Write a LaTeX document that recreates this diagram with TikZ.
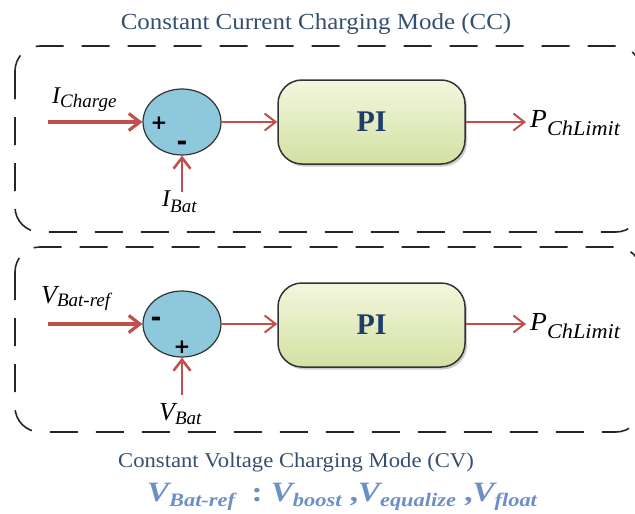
\documentclass[tikz,border=0pt]{standalone}
\usepackage{fontspec}
\setmainfont{Liberation Serif}
\newfontfamily\signfont{DejaVu Sans}
\usetikzlibrary{arrows.meta,shadows,shapes.geometric}
\definecolor{arr}{HTML}{C0504D}
\definecolor{ttl}{HTML}{34506E}
\definecolor{eqc}{HTML}{6D8FC7}
\definecolor{circ}{HTML}{8DC8DC}
\definecolor{pitop}{HTML}{F3F7DE}
\definecolor{pibot}{HTML}{D3E0A2}
\definecolor{pitxt}{HTML}{1F3D6B}
\newcommand\fs[1]{\fontsize{#1}{#1}\selectfont}
% main letter size, main letter, subscript size, subscript, drop
\newcommand\lbl[5]{{\fs{#1}\itshape #2}\raisebox{-#5pt}{\fs{#3}\itshape #4}}
\newcommand\blbl[5]{{\fs{#1}\bfseries\itshape #2}\raisebox{-#5pt}{\fs{#3}\bfseries\itshape #4}}
\begin{document}
\begin{tikzpicture}[x=1pt,y=-1pt,
  modebox/.style={draw=black!85,line width=1.6pt,dash pattern=on 28pt off 18pt,rounded corners=25pt},
  sumnode/.style={ellipse,draw=black!80,line width=1.2pt,fill=circ,minimum width=78pt,minimum height=66pt,inner sep=0pt},
  pibox/.style={rectangle,rounded corners=24pt,draw=black!80,line width=1.5pt,top color=pitop,bottom color=pibot,minimum width=187pt,minimum height=84pt,drop shadow={opacity=0.4,shadow xshift=2pt,shadow yshift=-2.5pt}},
  sig/.style={draw=arr,line width=2pt,-{Straight Barb[length=11pt,width=17pt]}},
  sigthick/.style={sig,line width=3.2pt},
  sigmid/.style={sig,line width=2.6pt},
  txt/.style={inner sep=0pt,text=black},
  ttlstyle/.style={inner sep=0pt,text=ttl,anchor=base},
  signstyle/.style={inner sep=0pt,text=black,font=\signfont\bfseries}
]
\useasboundingbox (0,0) rectangle (635,514);

% mode boxes
\draw[modebox] (15,46) rectangle (641,232);
\draw[modebox] (15,247) rectangle (641,432);

% titles
\node[ttlstyle] (t1) at (316,29) {\scalebox{1.085}[1]{\fs{23}Constant Current Charging Mode (CC)}};
\node[ttlstyle] (t2) at (296,467) {\scalebox{1.08}[1]{\fs{21}Constant Voltage Charging Mode (CV)}};
\node[inner sep=0pt,text=eqc,anchor=base] (eq) at (342,501) {\scalebox{1.18}[1]{\fs{28}\bfseries\blbl{28}{V}{19}{Bat-ref}{5}\ \ :\ \blbl{28}{V}{19}{boost}{5}\ ,\blbl{28}{V}{19}{equalize}{5}\ ,\blbl{28}{V}{19}{float}{5}}};

% ---- CC row ----
\node[sumnode] (s1) at (182,122) {};
\node[pibox] (p1) at (371.5,122) {\fs{30}\bfseries\color{pitxt}PI};
\coordinate (in1) at (48,122);
\coordinate (ib1) at (182,192);
\coordinate (o1) at (526,122);
\draw[sigthick] (in1) -- (s1);
\draw[sigmid] (ib1) -- (s1);
\draw[sig] (s1) -- (p1);
\draw[sig] (p1) -- (o1);
\node[signstyle] (pl1) at (159,123) {\fs{20}+};
\node[signstyle] (mi1) at (182,146) {\fs{26}-};
\node[txt,anchor=base west] (lic) at (52,103) {\lbl{24}{I}{19}{Charge}{4}};
\node[txt,anchor=base west] (lib) at (162,206) {\lbl{24}{I}{19}{Bat}{6}};
\node[txt,anchor=base west] (lp1) at (530,127) {\scalebox{1.06}[1]{\lbl{26}{P}{21}{ChLimit}{8}}};

% ---- CV row ----
\node[sumnode] (s2) at (182,324) {};
\node[pibox] (p2) at (371.5,325) {\fs{30}\bfseries\color{pitxt}PI};
\coordinate (in2) at (48,324);
\coordinate (vb2) at (182,395);
\coordinate (o2) at (526,324);
\draw[sigthick] (in2) -- (s2);
\draw[sigmid] (vb2) -- (s2);
\draw[sig] (s2) -- (p2.west |- s2);
\draw[sig] (p2.east |- s2) -- (o2);
\node[signstyle] (mi2) at (156,322) {\fs{26}-};
\node[signstyle] (pl2) at (182,347) {\fs{20}+};
\node[txt,anchor=base west] (lvr) at (41,303) {\lbl{26}{V}{19}{Bat-ref}{3}};
\node[txt,anchor=base west] (lvb) at (159,420) {\lbl{26}{V}{19}{Bat}{4}};
\node[txt,anchor=base west] (lp2) at (530,330) {\scalebox{1.06}[1]{\lbl{26}{P}{21}{ChLimit}{8}}};
\end{tikzpicture}
\end{document}
